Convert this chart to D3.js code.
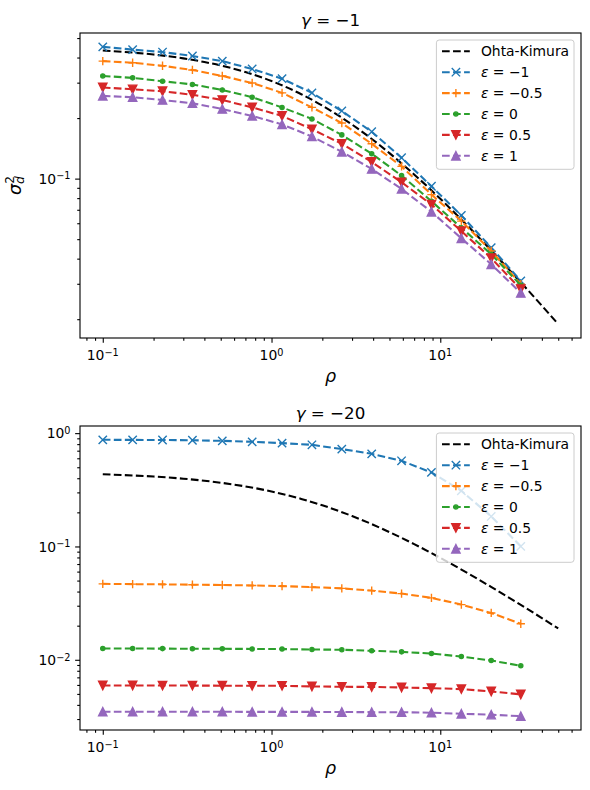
<!DOCTYPE html>
<html><head><meta charset="utf-8">
<script src="https://cdn.jsdelivr.net/npm/d3@7"></script>
<style>body{margin:0;background:#fff} svg{display:block;font-family:"DejaVu Sans",sans-serif}</style>
</head><body><svg id="c" width="590" height="790"></svg>
<script>
// ---------------- data ----------------
const rho = [0.1, 0.1503, 0.2260, 0.3398, 0.5108, 0.7679, 1.1545, 1.7356, 2.609, 3.923, 5.897, 8.866, 13.33, 20.04, 30];
const okRho = [0.1, 0.15, 0.2, 0.3, 0.4, 0.5, 0.7, 1, 1.5, 2, 3, 4, 5, 7, 10, 15, 20, 30, 40, 50];
const okVals = [0.4333, 0.4234, 0.4140, 0.3963, 0.3801, 0.3652, 0.3387, 0.3056, 0.2629, 0.2308, 0.1857, 0.1556, 0.1339, 0.1049, 0.0794, 0.0566, 0.0440, 0.0305, 0.02334, 0.0189];
const epsLabels = ["\u22121", "\u22120.5", "0", "0.5", "1"];
const gammaLabels = ["\u22121", "\u221220"];

// gamma = -1
const g1_epsM1  = [0.452, 0.438, 0.426, 0.407, 0.384, 0.351, 0.314, 0.267, 0.217, 0.171, 0.127, 0.0916, 0.0656, 0.0454, 0.0310];
const g1_epsM05 = [0.384, 0.377, 0.364, 0.347, 0.324, 0.299, 0.267, 0.226, 0.189, 0.149, 0.115, 0.0833, 0.0615, 0.0437, 0.0299];
const g1_eps0   = [0.324, 0.317, 0.305, 0.294, 0.276, 0.254, 0.226, 0.198, 0.165, 0.133, 0.1035, 0.0772, 0.0570, 0.0421, 0.0295];
const g1_eps05  = [0.284, 0.278, 0.272, 0.261, 0.246, 0.226, 0.205, 0.176, 0.149, 0.121, 0.0959, 0.0743, 0.0548, 0.0402, 0.0282];
const g1_eps1   = [0.258, 0.254, 0.246, 0.237, 0.222, 0.205, 0.186, 0.162, 0.136, 0.1117, 0.0889, 0.0684, 0.0505, 0.0375, 0.0270];

// gamma = -20
const g20_epsM1  = [0.873, 0.872, 0.870, 0.865, 0.855, 0.838, 0.816, 0.789, 0.723, 0.657, 0.570, 0.450, 0.310, 0.184, 0.1002];
const g20_epsM05 = [0.0468, 0.0465, 0.0463, 0.0460, 0.0457, 0.0453, 0.0447, 0.0438, 0.0427, 0.0408, 0.0384, 0.0352, 0.0307, 0.0259, 0.0208];
const g20_eps0   = [0.01259, 0.01257, 0.01255, 0.01252, 0.01250, 0.01247, 0.01243, 0.01233, 0.01226, 0.01200, 0.01175, 0.01135, 0.01068, 0.00986, 0.00885];
const g20_eps05  = [0.00594, 0.00594, 0.00593, 0.00592, 0.00591, 0.00590, 0.00589, 0.00582, 0.00578, 0.00576, 0.00570, 0.00562, 0.00551, 0.00526, 0.00495];
const g20_eps1   = [0.00348, 0.00348, 0.00348, 0.00348, 0.00348, 0.00347, 0.00347, 0.00347, 0.00346, 0.00345, 0.00345, 0.00341, 0.00334, 0.00328, 0.00318];

// ---------------- style ----------------
const colors = ["#1f77b4", "#ff7f0e", "#2ca02c", "#d62728", "#9467bd"];
const markers = ["x", "+", ".", "v", "^"];
const LW = 2.08, DASH = "7.7,3.33", MS = 4.17, MEW = 1.39;

const svg = d3.select("#c");

function padLog(ext) {
  const lo = Math.log10(ext[0]), hi = Math.log10(ext[1]), d = (hi - lo) * 0.05;
  return [Math.pow(10, lo - d), Math.pow(10, hi + d)];
}
function logTicks(domain) {
  const major = [], minor = [];
  const a = Math.floor(Math.log10(domain[0])) - 1, b = Math.ceil(Math.log10(domain[1])) + 1;
  for (let n = a; n <= b; n++) {
    const p = Math.pow(10, n);
    if (p >= domain[0] * 0.9999 && p <= domain[1] * 1.0001) major.push(n);
    for (let k = 2; k <= 9; k++) {
      const v = k * p;
      if (v >= domain[0] && v <= domain[1]) minor.push(v);
    }
  }
  return {major, minor};
}
function drawMarker(g, type, color, x, y) {
  if (type === "x") {
    g.append("path").attr("d", `M${x - MS},${y - MS}L${x + MS},${y + MS}M${x - MS},${y + MS}L${x + MS},${y - MS}`)
      .attr("stroke", color).attr("stroke-width", MEW).attr("fill", "none");
  } else if (type === "+") {
    g.append("path").attr("d", `M${x - MS},${y}L${x + MS},${y}M${x},${y - MS}L${x},${y + MS}`)
      .attr("stroke", color).attr("stroke-width", MEW).attr("fill", "none");
  } else if (type === ".") {
    g.append("circle").attr("cx", x).attr("cy", y).attr("r", MS * 0.5)
      .attr("fill", color).attr("stroke", color).attr("stroke-width", MEW);
  } else if (type === "v") {
    g.append("path").attr("d", `M${x},${y + MS}L${x - MS},${y - MS}L${x + MS},${y - MS}Z`)
      .attr("fill", color).attr("stroke", color).attr("stroke-width", MEW).attr("stroke-linejoin", "miter");
  } else if (type === "^") {
    g.append("path").attr("d", `M${x},${y - MS}L${x - MS},${y + MS}L${x + MS},${y + MS}Z`)
      .attr("fill", color).attr("stroke", color).attr("stroke-width", MEW).attr("stroke-linejoin", "miter");
  }
}
function powLabel(sel, n) {
  sel.append("tspan").text("10");
  sel.append("tspan").attr("dy", "-0.45em").attr("font-size", "0.7em").text(n < 0 ? "\u2212" + (-n) : String(n));
}

function drawPanel(p) {
  const L = 80, R = 581, T = p.top, B = p.bottom;
  const xs = d3.scaleLog().domain(padLog(d3.extent(rho.concat(okRho)))).range([L, R]);
  const allY = okVals.concat(...p.series);
  const ys = d3.scaleLog().domain(padLog(d3.extent(allY))).range([B, T]);
  const g = svg.append("g");

  // ticks
  const xt = logTicks(xs.domain()), yt = logTicks(ys.domain());
  const ax = g.append("g").attr("transform", `translate(0,${B})`);
  ax.call(d3.axisBottom(xs).tickValues(xt.major.map(n => Math.pow(10, n))).tickSize(4.86).tickSizeOuter(0).tickFormat(""));
  ax.append("g").call(d3.axisBottom(xs).tickValues(xt.minor).tickSize(2.78).tickSizeOuter(0).tickFormat(""));
  const ay = g.append("g").attr("transform", `translate(${L},0)`);
  ay.call(d3.axisLeft(ys).tickValues(yt.major.map(n => Math.pow(10, n))).tickSize(4.86).tickSizeOuter(0).tickFormat(""));
  ay.append("g").call(d3.axisLeft(ys).tickValues(yt.minor).tickSize(2.78).tickSizeOuter(0).tickFormat(""));
  g.selectAll(".domain").remove();
  g.selectAll(".tick line").attr("stroke", "#000").attr("stroke-width", 1.11);

  // tick labels
  xt.major.forEach(n => {
    const t = g.append("text").attr("x", xs(Math.pow(10, n))).attr("y", B + 22).attr("text-anchor", "middle")
      .attr("font-size", 13.9).attr("fill", "#000");
    powLabel(t, n);
  });
  yt.major.forEach(n => {
    const t = g.append("text").attr("x", L - 9.5).attr("y", ys(Math.pow(10, n)) + 5.2).attr("text-anchor", "end")
      .attr("font-size", 13.9).attr("fill", "#000");
    powLabel(t, n);
  });

  // clip
  const cid = "clip" + p.top;
  svg.append("clipPath").attr("id", cid).append("rect").attr("x", L).attr("y", T).attr("width", R - L).attr("height", B - T);
  const plot = g.append("g").attr("clip-path", `url(#${cid})`);

  const line = d3.line().x(d => xs(d[0])).y(d => ys(d[1]));
  // Ohta-Kimura
  plot.append("path").datum(okRho.map((r, i) => [r, okVals[i]]))
    .attr("d", line.curve(d3.curveMonotoneX)).attr("fill", "none").attr("stroke", "#000")
    .attr("stroke-width", LW).attr("stroke-dasharray", DASH);
  const lineLin = d3.line().x(d => xs(d[0])).y(d => ys(d[1]));
  p.series.forEach((vals, si) => {
    const data = rho.map((r, i) => [r, vals[i]]);
    const sg = plot.append("g");
    sg.append("path").datum(data).attr("d", lineLin).attr("fill", "none").attr("stroke", colors[si])
      .attr("stroke-width", LW).attr("stroke-dasharray", DASH);
    data.forEach(d => drawMarker(sg, markers[si], colors[si], xs(d[0]), ys(d[1])));
  });

  // spines
  g.append("rect").attr("x", L).attr("y", T).attr("width", R - L).attr("height", B - T)
    .attr("fill", "none").attr("stroke", "#000").attr("stroke-width", 1.11);

  // title
  const tt = g.append("text").attr("x", (L + R) / 2).attr("y", T - 7).attr("text-anchor", "middle").attr("font-size", 16.7);
  tt.append("tspan").attr("font-style", "italic").text("\u03b3");
  tt.append("tspan").text(" = " + p.gamma);

  // x label
  g.append("text").attr("x", (L + R) / 2).attr("y", B + 43.5).attr("text-anchor", "middle")
    .attr("font-size", 17.5).attr("font-style", "italic").text("\u03c1");

  // y label
  if (p.ylabel) {
    const yl = g.append("text").attr("transform", `translate(21,${(T + B) / 2}) rotate(-90)`)
      .attr("text-anchor", "middle").attr("font-size", 17.5).attr("font-style", "italic");
    yl.append("tspan").text("\u03c3");
    yl.append("tspan").attr("dy", "0.25em").attr("font-size", "0.7em").text("d");
    yl.append("tspan").attr("dx", "-0.63em").attr("dy", "-0.85em").attr("font-size", "0.7em").attr("font-style", "normal").text("2");
  }

  // legend
  const lx = R - 7 - 137.6, ly = T + 7;
  const lg = g.append("g");
  lg.append("rect").attr("x", lx).attr("y", ly).attr("width", 137.6).attr("height", 129.3).attr("rx", 2.8)
    .attr("fill", "#fff").attr("fill-opacity", 0.8).attr("stroke", "#cccccc").attr("stroke-width", 1.0);
  const names = ["Ohta-Kimura"].concat(epsLabels);
  names.forEach((nm, i) => {
    const yy = ly + 11.3 + 20.9 * i;
    const col = i === 0 ? "#000" : colors[i - 1];
    lg.append("path").attr("d", `M${lx + 5.6},${yy}L${lx + 33.4},${yy}`).attr("stroke", col)
      .attr("stroke-width", LW).attr("stroke-dasharray", DASH).attr("fill", "none");
    if (i > 0) drawMarker(lg, markers[i - 1], col, lx + 19.5, yy);
    const t = lg.append("text").attr("x", lx + 44.5).attr("y", yy + 5).attr("font-size", 13.9).attr("fill", "#000");
    if (i === 0) t.text(nm);
    else {
      t.append("tspan").attr("font-style", "italic").text("\u03b5");
      t.append("tspan").text(" = " + nm);
    }
  });
}

drawPanel({top: 33, bottom: 338, gamma: gammaLabels[0], ylabel: true,
  series: [g1_epsM1, g1_epsM05, g1_eps0, g1_eps05, g1_eps1]});
drawPanel({top: 426, bottom: 730, gamma: gammaLabels[1], ylabel: false,
  series: [g20_epsM1, g20_epsM05, g20_eps0, g20_eps05, g20_eps1]});
</script></body></html>
